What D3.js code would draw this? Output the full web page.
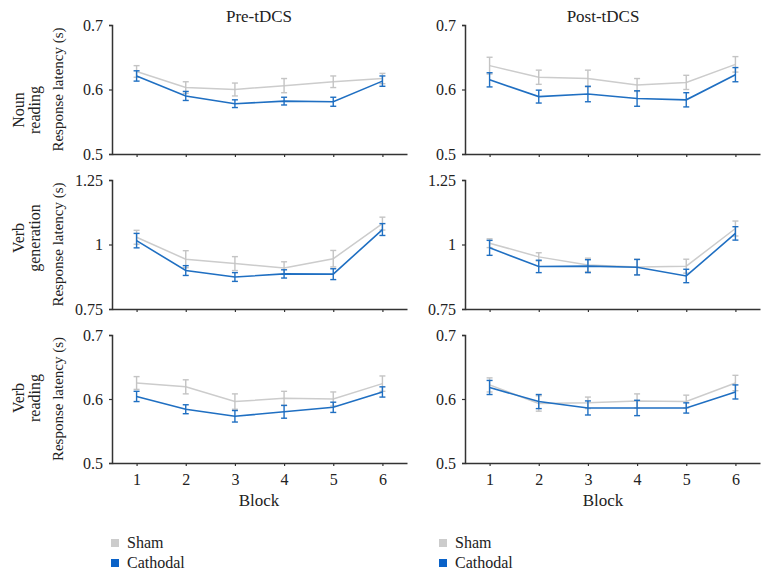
<!DOCTYPE html>
<html>
<head>
<meta charset="utf-8">
<script src="https://cdn.jsdelivr.net/npm/d3@7/dist/d3.min.js"></script>
<style>
  body { margin: 0; background: #fff; }
  svg, svg text { font-family: 'Liberation Serif', 'DejaVu Serif', serif !important; }
</style>
</head>
<body>
<svg id="chart" width="770" height="580"></svg>
<script>
// ---- data ----
const blocks = [1, 2, 3, 4, 5, 6];
const columnTitles = ["Pre-tDCS", "Post-tDCS"];
const seriesNames = ["Sham", "Cathodal"];
const rowLabels = [["Noun", "reading"], ["Verb", "generation"], ["Verb", "reading"]];
const yTitle = "Response latency (s)";
const xTitle = "Block";

const yTicksReading = [0.5, 0.6, 0.7];
const yTickLabelsReading = ["0.5", "0.6", "0.7"];
const yTicksGeneration = [0.75, 1, 1.25];
const yTickLabelsGeneration = ["0.75", "1", "1.25"];

const nounPreSham = [0.628, 0.603, 0.600, 0.606, 0.612, 0.617];
const nounPreShamErr = [0.009, 0.009, 0.010, 0.011, 0.009, 0.008];
const nounPreCath = [0.621, 0.590, 0.578, 0.582, 0.581, 0.613];
const nounPreCathErr = [0.008, 0.007, 0.006, 0.006, 0.007, 0.008];
const nounPostSham = [0.637, 0.619, 0.617, 0.607, 0.611, 0.639];
const nounPostShamErr = [0.013, 0.011, 0.013, 0.010, 0.011, 0.012];
const nounPostCath = [0.615, 0.589, 0.593, 0.586, 0.584, 0.623];
const nounPostCathErr = [0.011, 0.010, 0.012, 0.012, 0.011, 0.011];

const vgenPreSham = [1.028, 0.943, 0.926, 0.909, 0.945, 1.081];
const vgenPreShamErr = [0.027, 0.033, 0.027, 0.024, 0.032, 0.025];
const vgenPreCath = [1.015, 0.899, 0.874, 0.886, 0.885, 1.058];
const vgenPreCathErr = [0.028, 0.019, 0.017, 0.016, 0.021, 0.023];
const vgenPostSham = [1.005, 0.952, 0.921, 0.913, 0.916, 1.062];
const vgenPostShamErr = [0.017, 0.016, 0.026, 0.030, 0.027, 0.029];
const vgenPostCath = [0.987, 0.915, 0.916, 0.912, 0.878, 1.043];
const vgenPostCathErr = [0.029, 0.024, 0.025, 0.030, 0.026, 0.026];

const vreadPreSham = [0.625, 0.619, 0.596, 0.601, 0.600, 0.624];
const vreadPreShamErr = [0.010, 0.011, 0.012, 0.011, 0.011, 0.012];
const vreadPreCath = [0.604, 0.584, 0.573, 0.580, 0.587, 0.611];
const vreadPreCathErr = [0.008, 0.007, 0.009, 0.010, 0.008, 0.008];
const vreadPostSham = [0.622, 0.593, 0.594, 0.597, 0.596, 0.625];
const vreadPostShamErr = [0.011, 0.012, 0.009, 0.011, 0.010, 0.012];
const vreadPostCath = [0.618, 0.596, 0.586, 0.586, 0.586, 0.611];
const vreadPostCathErr = [0.011, 0.011, 0.011, 0.012, 0.008, 0.011];

// ---- layout ----
const shamColor = "#cccccc";
const shamBarColor = "#c4c4c4";
const cathColor = "#1f6fc2";
const cathLegend = "#0a62c8";
const axisColor = "#333333";
const FONT = "'Liberation Serif', 'DejaVu Serif', serif";

const svg = d3.select("#chart");

const colX = [112, 465];
const panelW = 295;
const rowY = [[25, 154], [180, 309], [335, 463]];

const panels = [
  { row: 0, col: 0, dom: [0.5, 0.7], ticks: yTicksReading, labels: yTickLabelsReading, sham: nounPreSham, shamE: nounPreShamErr, cath: nounPreCath, cathE: nounPreCathErr },
  { row: 0, col: 1, dom: [0.5, 0.7], ticks: yTicksReading, labels: yTickLabelsReading, sham: nounPostSham, shamE: nounPostShamErr, cath: nounPostCath, cathE: nounPostCathErr },
  { row: 1, col: 0, dom: [0.75, 1.25], ticks: yTicksGeneration, labels: yTickLabelsGeneration, sham: vgenPreSham, shamE: vgenPreShamErr, cath: vgenPreCath, cathE: vgenPreCathErr },
  { row: 1, col: 1, dom: [0.75, 1.25], ticks: yTicksGeneration, labels: yTickLabelsGeneration, sham: vgenPostSham, shamE: vgenPostShamErr, cath: vgenPostCath, cathE: vgenPostCathErr },
  { row: 2, col: 0, dom: [0.5, 0.7], ticks: yTicksReading, labels: yTickLabelsReading, sham: vreadPreSham, shamE: vreadPreShamErr, cath: vreadPreCath, cathE: vreadPreCathErr },
  { row: 2, col: 1, dom: [0.5, 0.7], ticks: yTicksReading, labels: yTickLabelsReading, sham: vreadPostSham, shamE: vreadPostShamErr, cath: vreadPostCath, cathE: vreadPostCathErr }
];

panels.forEach(p => {
  const x0 = colX[p.col];
  const [yTop, yBot] = rowY[p.row];
  const x = d3.scaleLinear().domain([0.5, 6.5]).range([x0, x0 + panelW]);
  const y = d3.scaleLinear().domain(p.dom).range([yBot, yTop]);
  const g = svg.append("g");

  // y axis
  const yAxis = d3.axisLeft(y).tickValues(p.ticks)
    .tickFormat((d, i) => p.labels[i]).tickSize(3).tickPadding(6);
  const ya = g.append("g").attr("transform", `translate(${x0},0)`).call(yAxis)
    .attr("font-family", null);
  ya.select(".domain").attr("stroke", axisColor).attr("stroke-width", 1.5);
  ya.selectAll(".tick line").attr("stroke", axisColor).attr("stroke-width", 1.2);
  ya.selectAll(".tick text").attr("font-size", 16).attr("fill", "#222")
    .style("font-family", FONT);

  // x axis
  const xAxis = d3.axisBottom(x).tickValues(blocks).tickSize(3).tickSizeOuter(0).tickPadding(8)
    .tickFormat(d => p.row === 2 ? String(d) : "");
  const xa = g.append("g").attr("transform", `translate(0,${yBot})`).call(xAxis)
    .attr("font-family", null);
  xa.select(".domain").attr("stroke", axisColor).attr("stroke-width", 1.5);
  xa.selectAll(".tick line").attr("stroke", axisColor).attr("stroke-width", 1.2);
  xa.selectAll(".tick text").attr("font-size", 16).attr("fill", "#222")
    .style("font-family", FONT);

  const line = d3.line().x((d, i) => x(blocks[i])).y(d => y(d));

  function drawSeries(vals, errs, lineColor, barColor, lw) {
    g.append("path").datum(vals).attr("d", line)
      .attr("fill", "none").attr("stroke", lineColor).attr("stroke-width", lw);
    const eb = g.append("g").attr("stroke", barColor).attr("stroke-width", 1.4).attr("fill", "none");
    vals.forEach((v, i) => {
      const cx = x(blocks[i]);
      const t = y(v + errs[i]), b = y(v - errs[i]);
      eb.append("line").attr("x1", cx).attr("x2", cx).attr("y1", t).attr("y2", b);
      eb.append("line").attr("x1", cx - 3).attr("x2", cx + 3).attr("y1", t).attr("y2", t);
      eb.append("line").attr("x1", cx - 3).attr("x2", cx + 3).attr("y1", b).attr("y2", b);
    });
  }
  drawSeries(p.sham, p.shamE, shamColor, shamBarColor, 1.5);
  drawSeries(p.cath, p.cathE, cathColor, cathColor, 1.6);
});

// column titles
const titleX = [259, 603];
columnTitles.forEach((t, i) => {
  svg.append("text").attr("x", titleX[i]).attr("y", 22).attr("text-anchor", "middle")
    .attr("font-size", 17).attr("fill", "#222").style("font-family", FONT).text(t);
});

// y titles
rowY.forEach((r, i) => {
  const cy = (r[0] + r[1]) / 2;
  svg.append("text").attr("transform", `translate(63,${cy}) rotate(-90)`)
    .attr("text-anchor", "middle").attr("font-size", 15).attr("fill", "#222")
    .style("font-family", FONT).text(yTitle);
});

// row labels
const rowLabelCenter = [110, 238, 398];
rowLabels.forEach((lines, i) => {
  lines.forEach((l, j) => {
    svg.append("text").attr("transform", `translate(${24 + j * 16},${rowLabelCenter[i]}) rotate(-90)`)
      .attr("text-anchor", "middle").attr("font-size", 16).attr("fill", "#222")
      .style("font-family", FONT).text(l);
  });
});

// x titles
titleX.forEach((tx, i) => {
  svg.append("text").attr("x", tx).attr("y", 506).attr("text-anchor", "middle")
    .attr("font-size", 17).attr("fill", "#222").style("font-family", FONT).text(xTitle);
});

// legends
const legendX = [111, 439];
const legendColors = [shamColor, cathLegend];
legendX.forEach(lx => {
  seriesNames.forEach((n, j) => {
    const cy = 543 + j * 20;
    svg.append("rect").attr("x", lx).attr("y", cy - 4).attr("width", 8).attr("height", 8)
      .attr("fill", legendColors[j]);
    svg.append("text").attr("x", lx + 16).attr("y", cy + 5).attr("font-size", 16)
      .attr("fill", "#222").style("font-family", FONT).text(n);
  });
});
</script>
</body>
</html>
